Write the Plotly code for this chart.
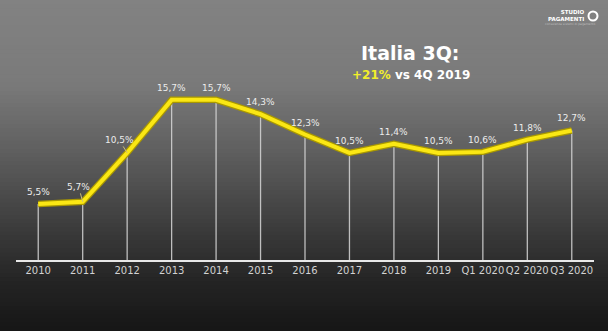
import plotly.graph_objects as go

# Periodi e valori (%)
periodi = ["2010", "2011", "2012", "2013", "2014", "2015", "2016", "2017",
           "2018", "2019", "Q1 2020", "Q2 2020", "Q3 2020"]
valori = [5.5, 5.7, 10.5, 15.7, 15.7, 14.3, 12.3, 10.5, 11.4, 10.5, 10.6, 11.8, 12.7]
etichette = [f"{v:.1f}".replace(".", ",") + "%" for v in valori]

W, H = 608, 331
M_L, M_R, M_T, M_B = 16, 14, 56, 71
PW, PH = W - M_L - M_R, H - M_T - M_B

fig = go.Figure()

# Linee verticali dalla base al valore
vx, vy = [], []
for p, v in zip(periodi, valori):
    vx += [p, p, None]
    vy += [0, v, None]
fig.add_trace(go.Scatter(x=vx, y=vy, mode="lines",
                         line=dict(color="rgba(215,215,215,0.85)", width=1.3),
                         hoverinfo="skip", showlegend=False))

# Linea gialla (bordo scuro + nucleo brillante)
fig.add_trace(go.Scatter(x=periodi, y=valori, mode="lines",
                         line=dict(color="#a99800", width=6.5),
                         hoverinfo="skip", showlegend=False))
fig.add_trace(go.Scatter(x=periodi, y=valori, mode="lines",
                         line=dict(color="#fbe714", width=4),
                         showlegend=False))

# Sfondo sfumato (grigio in alto, quasi nero in basso)
stops = [(0.0, (130, 130, 130)), (0.25, (122, 122, 122)), (0.45, (96, 96, 96)),
         (0.7, (58, 58, 58)), (0.85, (36, 36, 36)), (1.0, (22, 22, 22))]


def colore(t):
    for (t0, c0), (t1, c1) in zip(stops[:-1], stops[1:]):
        if t0 <= t <= t1:
            f = (t - t0) / (t1 - t0)
            return "rgb(%d,%d,%d)" % tuple(round(a + (b - a) * f) for a, b in zip(c0, c1))
    return "rgb(22,22,22)"


shapes = []
N = 80
x0p, x1p = -M_L / PW - 0.01, 1 + M_R / PW + 0.01
for i in range(N):
    top_px = H * i / N
    bot_px = H * (i + 1) / N + 1
    y_top = 1 + (M_T - top_px) / PH
    y_bot = 1 + (M_T - bot_px) / PH
    shapes.append(dict(type="rect", xref="paper", yref="paper", layer="below",
                       x0=x0p, x1=x1p, y0=y_bot, y1=y_top,
                       fillcolor=colore((i + 0.5) / N), line=dict(width=0)))

# Logo: anello
cx_px, cy_px, r_px = 593, 16, 4.5
shapes.append(dict(type="circle", xref="paper", yref="paper",
                   x0=(cx_px - r_px - M_L) / PW, x1=(cx_px + r_px - M_L) / PW,
                   y0=1 + (M_T - (cy_px + r_px)) / PH, y1=1 + (M_T - (cy_px - r_px)) / PH,
                   line=dict(color="white", width=2), fillcolor="rgba(0,0,0,0)"))

annotations = []
# Etichette dei valori (x come indice di categoria)
lead = {1: (-4, -15), 2: (-8, -13)}
for i, (v, t) in enumerate(zip(valori, etichette)):
    if i in lead:
        ax, ay = lead[i]
        annotations.append(dict(x=i, y=v, text=t, showarrow=True, arrowhead=0,
                                arrowwidth=1, arrowcolor="#cdbf78", ax=ax, ay=ay,
                                font=dict(family="DejaVu Sans", size=9, color="#ececec")))
    else:
        annotations.append(dict(x=i, y=v, text=t, showarrow=False, yshift=12,
                                font=dict(family="DejaVu Sans", size=9, color="#ececec")))

# Titolo
annotations.append(dict(xref="paper", yref="paper",
                        x=(410 - M_L) / PW, y=1 + (M_T - 53) / PH,
                        text="<b>Italia 3Q:</b>", showarrow=False,
                        xanchor="center", yanchor="middle",
                        font=dict(family="DejaVu Sans", size=19, color="white")))
annotations.append(dict(xref="paper", yref="paper",
                        x=(411 - M_L) / PW, y=1 + (M_T - 75) / PH,
                        text="<b><span style='color:#f2ef2a'>+21%</span> vs 4Q 2019</b>",
                        showarrow=False, xanchor="center", yanchor="middle",
                        font=dict(family="DejaVu Sans", size=12, color="white")))

# Logo: testo
annotations.append(dict(xref="paper", yref="paper",
                        x=(587 - M_L) / PW, y=1 + (M_T - 15.5) / PH,
                        text="<b>STUDIO<br>PAGAMENTI</b>", showarrow=False,
                        xanchor="right", yanchor="middle", align="right",
                        font=dict(family="DejaVu Sans", size=5.5, color="white")))
annotations.append(dict(xref="paper", yref="paper",
                        x=(570 - M_L) / PW, y=1 + (M_T - 24) / PH,
                        text="consulenza sistemi di pagamento", showarrow=False,
                        xanchor="center", yanchor="middle",
                        font=dict(family="DejaVu Sans", size=3, color="#bbbbbb")))

fig.update_layout(
    width=W, height=H,
    margin=dict(l=M_L, r=M_R, t=M_T, b=M_B, autoexpand=False),
    paper_bgcolor="#555555",
    plot_bgcolor="rgba(0,0,0,0)",
    shapes=shapes,
    annotations=annotations,
    showlegend=False,
    xaxis=dict(type="category", range=[-0.5, 12.5], showgrid=False, zeroline=False,
               showline=True, linecolor="#e8e8e8", linewidth=1.5, ticks="",
               tickangle=0, automargin=False,
               tickfont=dict(family="DejaVu Sans", size=10, color="#d2d2d2"),
               fixedrange=True),
    yaxis=dict(range=[0, 20], visible=False, fixedrange=True),
)

fig.write_html("out.html")
